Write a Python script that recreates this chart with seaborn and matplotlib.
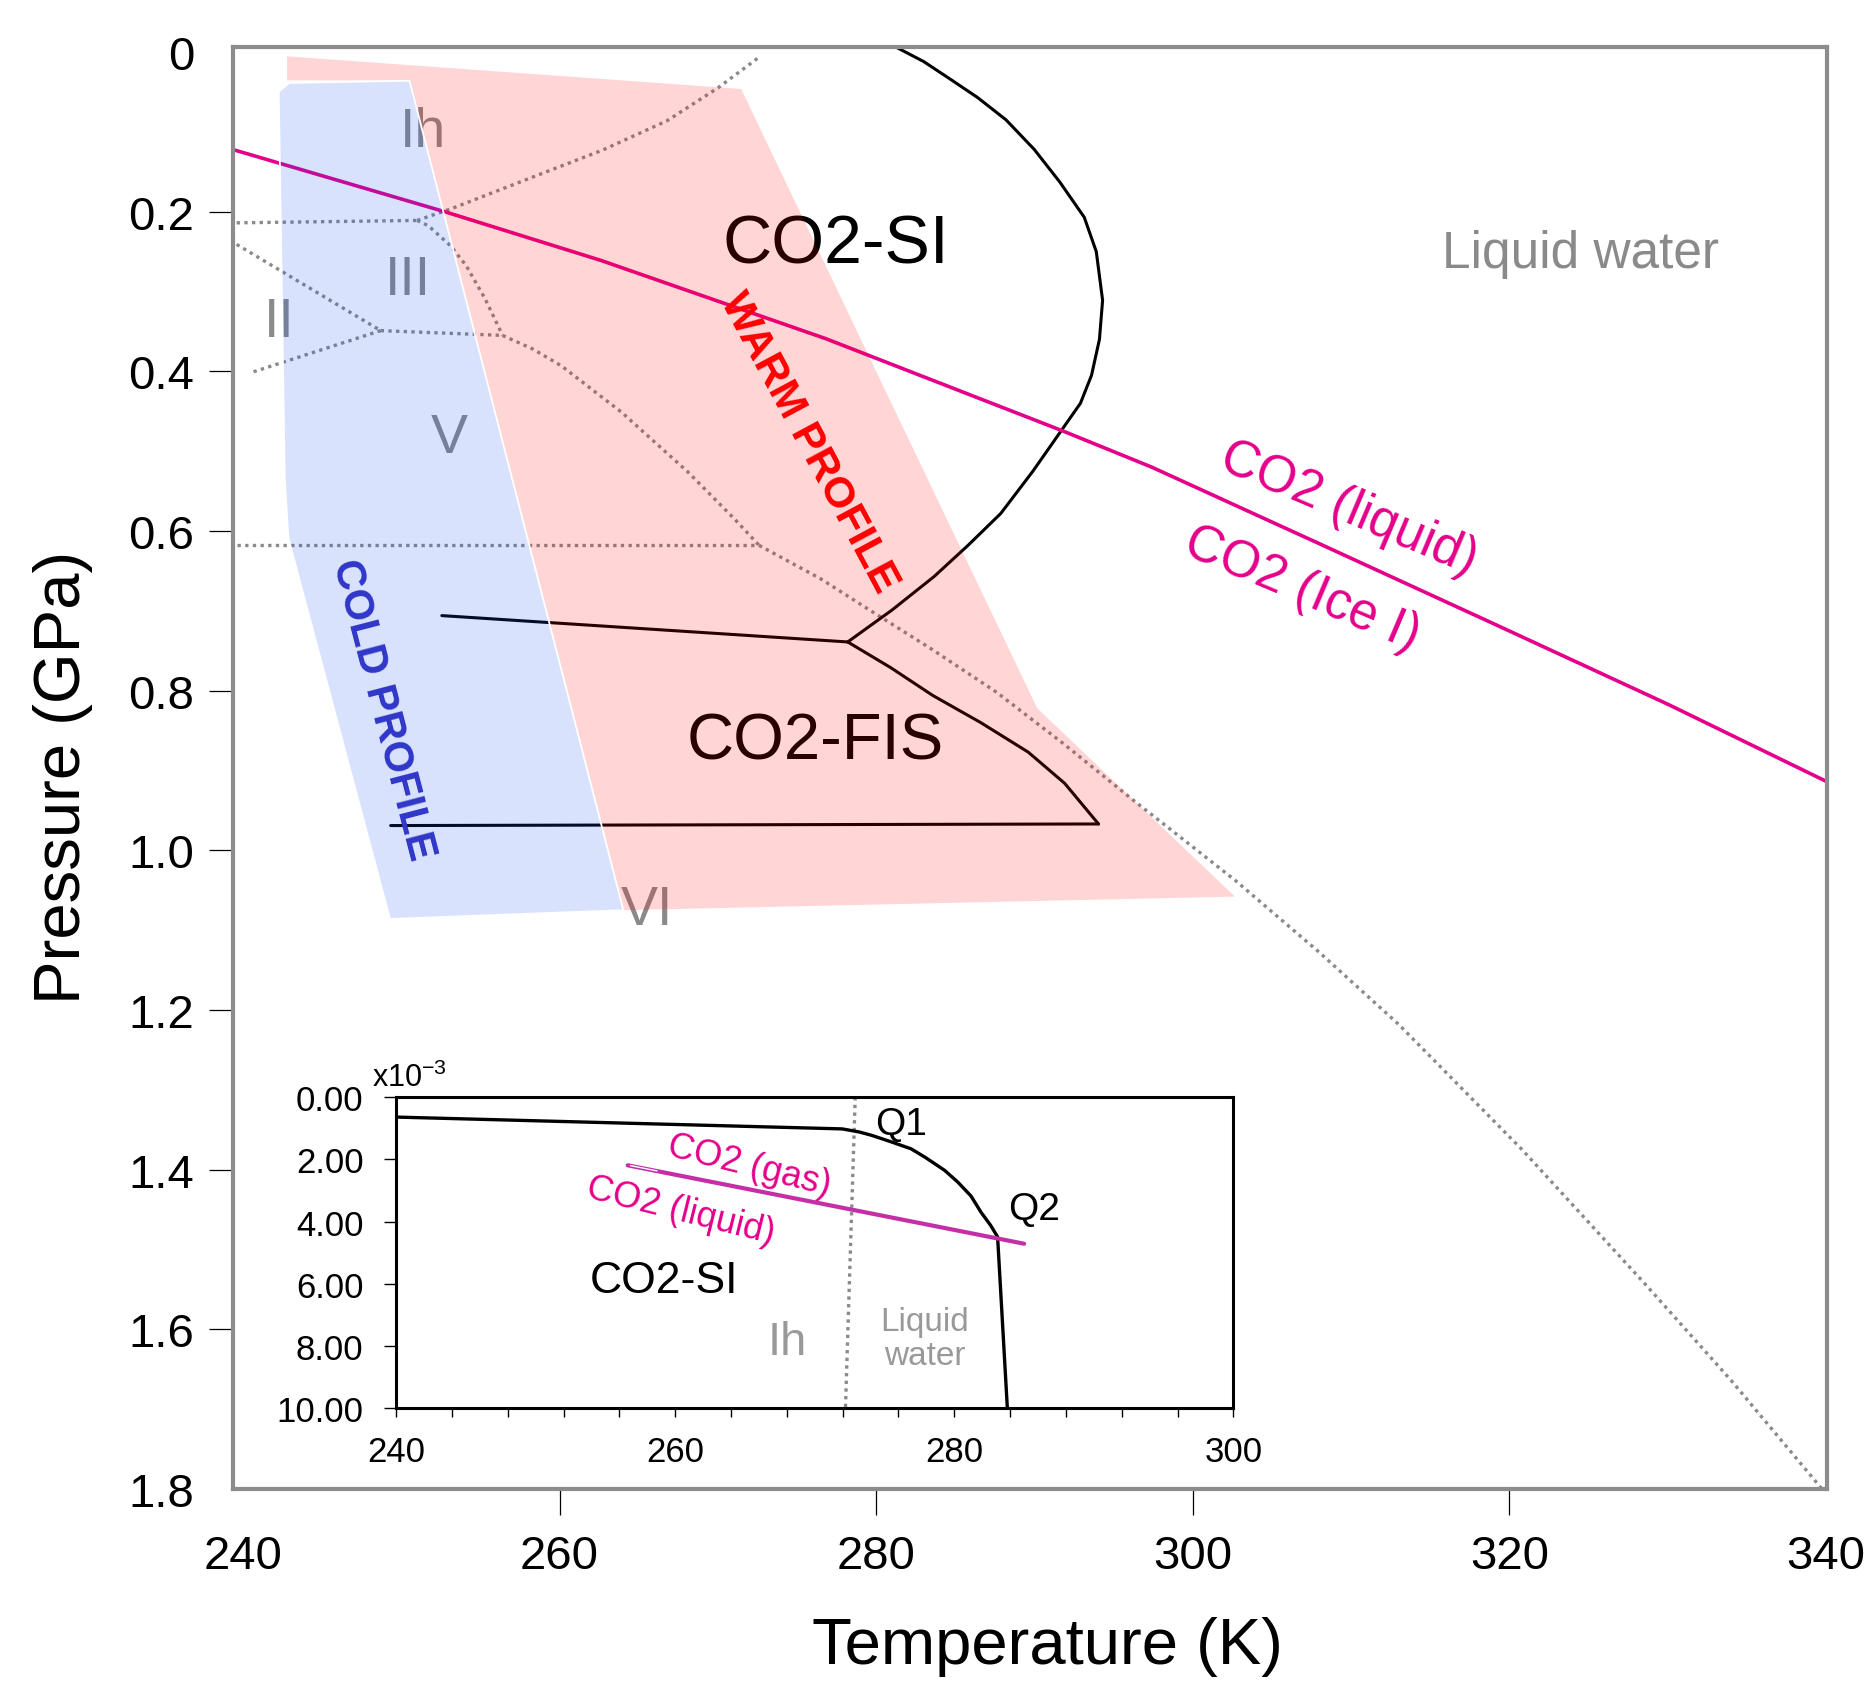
import numpy as np
import matplotlib
matplotlib.use("Agg")
import matplotlib.pyplot as plt
from matplotlib.ticker import MultipleLocator
import seaborn as sns

# ---------------- main diagram (T in K, P in GPa) ----------------
# CO2 liquid / CO2 ice I boundary
co2_T = [239.5, 252.9, 262.6, 276.8, 291.7, 297.4, 308.0, 319.2, 330.0, 340.1]
co2_P = [0.123, 0.201, 0.261, 0.359, 0.474, 0.520, 0.616, 0.718, 0.817, 0.9145]

# CO2 clathrate (SI) stability limit
si_T = [281.26, 283.0, 284.6, 286.4, 288.2, 289.98, 291.6, 293.14, 293.9, 294.3, 294.1,
        293.6, 292.9, 291.7, 289.9, 287.87, 285.8, 283.66, 281.0, 278.2]
si_P = [-0.006, 0.012, 0.033, 0.057, 0.085, 0.122, 0.163, 0.207, 0.25, 0.311, 0.36,
        0.405, 0.44, 0.474, 0.525, 0.578, 0.618, 0.657, 0.699, 0.739]
si_fis_T = [252.56, 278.2]
si_fis_P = [0.706, 0.739]
fis_T = [278.2, 280.9, 283.57, 286.6, 289.6, 291.9, 294.04]
fis_P = [0.739, 0.771, 0.806, 0.840, 0.877, 0.916, 0.967]
fis_low_T = [294.04, 249.33]
fis_low_P = [0.967, 0.969]

# water ice phase boundaries (dotted)
ice_lines = {
    "Ih-III": ([239.6, 251.0], [0.214, 0.211]),
    "Ih-L": ([251.0, 253.2, 258.0, 262.7, 266.8, 270.0, 272.5],
             [0.211, 0.196, 0.159, 0.123, 0.086, 0.045, 0.008]),
    "III-L": ([251.0, 251.7, 253.1, 254.1, 255.3, 256.4],
              [0.211, 0.2175, 0.2425, 0.2676, 0.3094, 0.355]),
    "II-III": ([239.6, 248.7], [0.241, 0.349]),
    "III-V": ([248.7, 256.4], [0.349, 0.355]),
    "II-V": ([248.7, 240.6], [0.349, 0.401]),
    "V-L": ([256.4, 258.3, 260.1, 263.9, 268.1, 271.05, 272.6],
            [0.355, 0.372, 0.393, 0.451, 0.526, 0.585, 0.618]),
    "V-VI": ([239.6, 272.6], [0.618, 0.618]),
    "VI-L": ([272.6, 276.5, 279.5, 283.5, 287.6, 291.8, 296.1, 302.7, 308.0, 313.0,
              320.8, 328.6, 334.0, 339.7],
             [0.618, 0.660, 0.698, 0.748, 0.802, 0.866, 0.935, 1.038, 1.128, 1.218,
              1.375, 1.544, 1.664, 1.799]),
}

# ocean temperature profiles (shaded areas)
warm_T = [242.79, 271.47, 290.17, 302.66, 264.03, 250.5, 242.79]
warm_P = [0.0054, 0.0463, 0.822, 1.058, 1.075, 0.0355, 0.0355]
cold_T = [242.26, 242.93, 250.52, 264.03, 249.29, 242.87, 242.64]
cold_P = [0.0497, 0.0388, 0.036, 1.075, 1.086, 0.609, 0.534]

ice_names = ["Ih", "III", "II", "V", "VI"]
ice_name_T = [251.4, 250.41, 242.26, 253.05, 265.54]
ice_name_P = [0.1173, 0.303, 0.356, 0.5013, 1.092]

x_ticks = [240, 260, 280, 300, 320, 340]
y_ticks = [0, 0.2, 0.4, 0.6, 0.8, 1.0, 1.2, 1.4, 1.6, 1.8]
y_tick_labels = ["0", "0.2", "0.4", "0.6", "0.8", "1.0", "1.2", "1.4", "1.6", "1.8"]

# ---------------- inset (P in 10^-3 GPa) ----------------
in_si_T = [240.0, 271.97, 273.2, 274.1, 275.5, 276.9, 277.9, 279.3, 280.25, 281.2,
           281.9, 282.6, 283.1, 283.8]
in_si_P = [0.64, 1.02, 1.12, 1.23, 1.44, 1.66, 1.93, 2.35, 2.73, 3.18,
           3.69, 4.12, 4.49, 10.0]
in_co2_T = [256.6, 285.0]
in_co2_P = [2.19, 4.71]
in_co2_open_T = [256.8, 258.7]
in_co2_open_P = [2.20, 2.37]
in_melt_T = [272.9, 272.2]
in_melt_P = [0.0, 10.0]
in_x_ticks = [240, 260, 280, 300]
in_y_ticks = [0, 2, 4, 6, 8, 10]
in_y_tick_labels = ["0.00", "2.00", "4.00", "6.00", "8.00", "10.00"]

GREY = "#8a8a8a"
MAGENTA = "#e5008a"
DOTS = (0, (1, 1.3))

sns.set_theme(style="ticks")
plt.rcParams["font.family"] = ["Liberation Sans", "DejaVu Sans"]
plt.rcParams["mathtext.default"] = "regular"
plt.rcParams["text.color"] = "black"
plt.rcParams["axes.labelcolor"] = "black"
plt.rcParams["xtick.color"] = "black"
plt.rcParams["ytick.color"] = "black"


def draw(axis, T, P, **kw):
    sns.lineplot(x=T, y=P, sort=False, estimator=None, ax=axis, legend=False, **kw)


fig = plt.figure(figsize=(18.76, 16.83), dpi=100)
fig.patch.set_facecolor("white")
ax = fig.add_axes([0.1242, 0.1147, 0.8497, 0.8568])

for T, P in ice_lines.values():
    draw(ax, T, P, color=GREY, linewidth=2.4, linestyle=DOTS, zorder=2)

for T, P in [(si_T, si_P), (si_fis_T, si_fis_P), (fis_T, fis_P), (fis_low_T, fis_low_P)]:
    draw(ax, T, P, color="black", linewidth=2.2, zorder=2.2)

draw(ax, co2_T, co2_P, color=MAGENTA, linewidth=2.6, zorder=2.3)

for name, t, p in zip(ice_names, ice_name_T, ice_name_P):
    ax.text(t, p, name, fontsize=40, color=GREY, ha="center", va="baseline", zorder=3)
ax.text(277.47, 0.2634, "CO2-SI", fontsize=49, color="black", ha="center", va="baseline", zorder=3)
ax.text(276.12, 0.8853, "CO2-FIS", fontsize=47, color="black", ha="center", va="baseline", zorder=3)
ax.text(324.48, 0.2697, "Liquid water", fontsize=37, color=GREY, ha="center", va="baseline", zorder=3)

# translucent temperature-profile envelopes, on top of the boundaries
ax.fill(warm_T, warm_P, facecolor=(1.0, 0.0, 0.0, 0.165), edgecolor="none", zorder=4)
ax.fill(cold_T, cold_P, facecolor=(0.075, 0.31, 0.93, 0.165), edgecolor="white", lw=1.3, zorder=4.1)

ax.text(275.7, 0.4888, "WARM PROFILE", fontsize=31, fontweight="bold", color="#ff0000",
        rotation=-61.8, rotation_mode="anchor", ha="center", va="center", zorder=6)
ax.text(248.83, 0.8226, "COLD PROFILE", fontsize=30, fontweight="bold", color="#3036c8",
        rotation=-75.4, rotation_mode="anchor", ha="center", va="center", zorder=6)
ax.text(309.83, 0.571, "CO2 (liquid)", fontsize=37, color=MAGENTA,
        rotation=-23, rotation_mode="anchor", ha="center", va="center", zorder=6)
ax.text(306.87, 0.6724, "CO2 (Ice I)", fontsize=37, color=MAGENTA,
        rotation=-23, rotation_mode="anchor", ha="center", va="center", zorder=6)

ax.set_xlim(239.37, 340.06)
ax.set_ylim(1.8, -0.0063)
ax.set_xticks(x_ticks)
ax.set_yticks(y_ticks)
ax.set_yticklabels(y_tick_labels)
ax.tick_params(axis="x", direction="out", length=18.5, width=0.9, color="black",
               labelcolor="black", labelsize=34, pad=14, bottom=True)
ax.tick_params(axis="y", direction="out", length=17, width=0.9, color="black",
               labelcolor="black", labelsize=34, pad=11, left=True)
# the end ticks sit on the frame in the original, only their labels show
for ticks in (ax.xaxis.get_major_ticks(), ax.yaxis.get_major_ticks()):
    ticks[0].tick1line.set_visible(False)
    ticks[-1].tick1line.set_visible(False)
for s in ax.spines.values():
    s.set_visible(True)
    s.set_color("#8c8c8c")
    s.set_linewidth(3)
ax.set_xlabel("Temperature (K)", fontsize=47, color="black")
ax.set_ylabel("Pressure (GPa)", fontsize=47, color="black")
ax.xaxis.set_label_coords(0.511, -0.088)
ax.yaxis.set_label_coords(-0.088, 0.494)

# ---------------- inset ----------------
axin = fig.add_axes([0.2111, 0.1626, 0.4464, 0.1849], zorder=10)
axin.set_facecolor("white")
draw(axin, in_melt_T, in_melt_P, color=GREY, linewidth=2.4, linestyle=DOTS, zorder=2)
draw(axin, in_si_T, in_si_P, color="black", linewidth=2.4, zorder=3)
draw(axin, in_co2_T, in_co2_P, color="#c42ea6", linewidth=3.0, zorder=3.5)
draw(axin, in_co2_open_T, in_co2_open_P, color="white", linewidth=1.0, zorder=3.6)

axin.text(276.22, 1.18, "Q1", fontsize=28, color="black", ha="center", va="baseline")
axin.text(285.69, 3.90, "Q2", fontsize=28, color="black", ha="center", va="baseline")
axin.text(259.18, 6.26, "CO2-SI", fontsize=32, color="black", ha="center", va="baseline")
axin.text(268.03, 8.24, "Ih", fontsize=34, color="#999999", ha="center", va="baseline")
axin.text(277.9, 7.75, "Liquid\nwater", fontsize=24, color="#999999", ha="center", va="center",
          linespacing=1.15)
axin.text(265.3, 2.19, "CO2 (gas)", fontsize=26, color=MAGENTA,
          rotation=-14, rotation_mode="anchor", ha="center", va="center")
axin.text(260.4, 3.64, "CO2 (liquid)", fontsize=26, color=MAGENTA,
          rotation=-14, rotation_mode="anchor", ha="center", va="center")
axin.text(-0.029, 1.036, r"x10$^{-3}$", transform=axin.transAxes, fontsize=22,
          ha="left", va="baseline")

axin.set_xlim(240, 300)
axin.set_ylim(10, 0)
axin.set_xticks(in_x_ticks)
axin.xaxis.set_minor_locator(MultipleLocator(4))
axin.set_yticks(in_y_ticks)
axin.set_yticklabels(in_y_tick_labels)
axin.set_xlabel("")
axin.set_ylabel("")
axin.tick_params(axis="x", which="both", direction="out", length=6.5, width=1.0,
                 color="black", labelcolor="black", labelsize=25, pad=13, bottom=True)
axin.tick_params(axis="y", direction="out", length=8.5, width=1.0, color="black",
                 labelcolor="black", labelsize=25, pad=15, left=True)
for s in axin.spines.values():
    s.set_visible(True)
    s.set_color("black")
    s.set_linewidth(2.2)

fig.savefig("out.png", dpi=100, facecolor="white")
